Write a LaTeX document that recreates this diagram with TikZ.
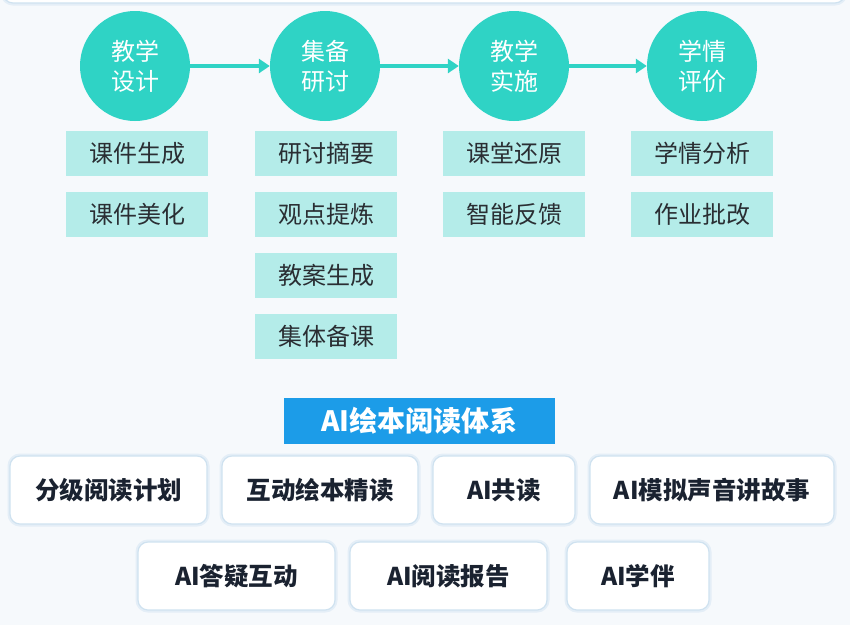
\documentclass[tikz,border=0pt]{standalone}
\usepackage{fontspec}
\setmainfont{Noto Sans CJK SC}
\usetikzlibrary{arrows.meta}
\definecolor{bgc}{HTML}{F6F9FC}
\definecolor{teal1}{HTML}{2FD3C5}
\definecolor{boxc}{HTML}{B4ECE9}
\definecolor{txtc}{HTML}{2A2E33}
\definecolor{bluec}{HTML}{1C9CE8}
\definecolor{edgec}{HTML}{CFE2F0}
\definecolor{glowc}{HTML}{E4EEF7}
\definecolor{cardtxt}{HTML}{1A2230}
\tikzset{
  stagecircle/.style={circle, fill=teal1, minimum size=110pt, inner sep=0pt, text=white, font=\fontsize{24}{28}\selectfont, align=center},
  featbox/.style={rectangle, fill=boxc, minimum width=142pt, minimum height=45pt, inner sep=0pt, text=txtc, font=\fontsize{24}{28}\selectfont},
  flowarrow/.style={draw=teal1, line width=3.5pt, -{Triangle[length=11pt,width=14pt]}},
  titlebox/.style={rectangle, fill=bluec, minimum width=271pt, minimum height=46pt, inner sep=0pt, text=white, font=\fontsize{28}{32}\selectfont\bfseries},
  card/.style={rectangle, rounded corners=10pt, fill=white, draw=edgec, line width=1.2pt, preaction={draw=glowc, line width=5pt}, minimum height=68pt, inner sep=0pt, text=cardtxt, font=\fontsize{24.5}{28}\selectfont\bfseries}
}
\begin{document}
\begin{tikzpicture}[x=1pt,y=-1pt]
\fill[bgc] (0,0) rectangle (850,625);
\useasboundingbox (0,0) rectangle (850,625);
% top panel remnant
\draw[glowc, line width=5pt, rounded corners=10pt] (3,-40) -- (3,3) -- (845,3) -- (845,-40);
\fill[white, draw=edgec, line width=1.2pt, rounded corners=10pt] (3,-40) rectangle (845,3);
% stages
\node[stagecircle] (c1) at (135,66) {教学\\[2pt]设计};
\node[stagecircle] (c2) at (325,66) {集备\\[2pt]研讨};
\node[stagecircle] (c3) at (514,66) {教学\\[2pt]实施};
\node[stagecircle] (c4) at (702,66) {学情\\[2pt]评价};
\draw[flowarrow] (c1.east) -- (c2.west);
\draw[flowarrow] (c2.east) -- (c3.west);
\draw[flowarrow] (c3.east) -- (c4.west);
% feature boxes
\node[featbox] (b11) at (137,153.5) {课件生成};
\node[featbox] (b12) at (137,214.5) {课件美化};
\node[featbox] (b21) at (326,153.5) {研讨摘要};
\node[featbox] (b22) at (326,214.5) {观点提炼};
\node[featbox] (b23) at (326,275.5) {教案生成};
\node[featbox] (b24) at (326,336) {集体备课};
\node[featbox] (b31) at (514,153.5) {课堂还原};
\node[featbox] (b32) at (514,214.5) {智能反馈};
\node[featbox] (b41) at (702,153.5) {学情分析};
\node[featbox] (b42) at (702,214.5) {作业批改};
% title
\node[titlebox] (t) at (419.5,421) {AI绘本阅读体系};
% cards
\node[card, minimum width=197pt] (k1) at (108.5,490) {分级阅读计划};
\node[card, minimum width=196pt] (k2) at (320,490) {互动绘本精读};
\node[card, minimum width=142pt] (k3) at (504,490) {AI共读};
\node[card, minimum width=244pt] (k4) at (712,490) {AI模拟声音讲故事};
\node[card, minimum width=197pt] (k5) at (236.5,576) {AI答疑互动};
\node[card, minimum width=197pt] (k6) at (448.5,576) {AI阅读报告};
\node[card, minimum width=142pt] (k7) at (638,576) {AI学伴};
\end{tikzpicture}
\end{document}
